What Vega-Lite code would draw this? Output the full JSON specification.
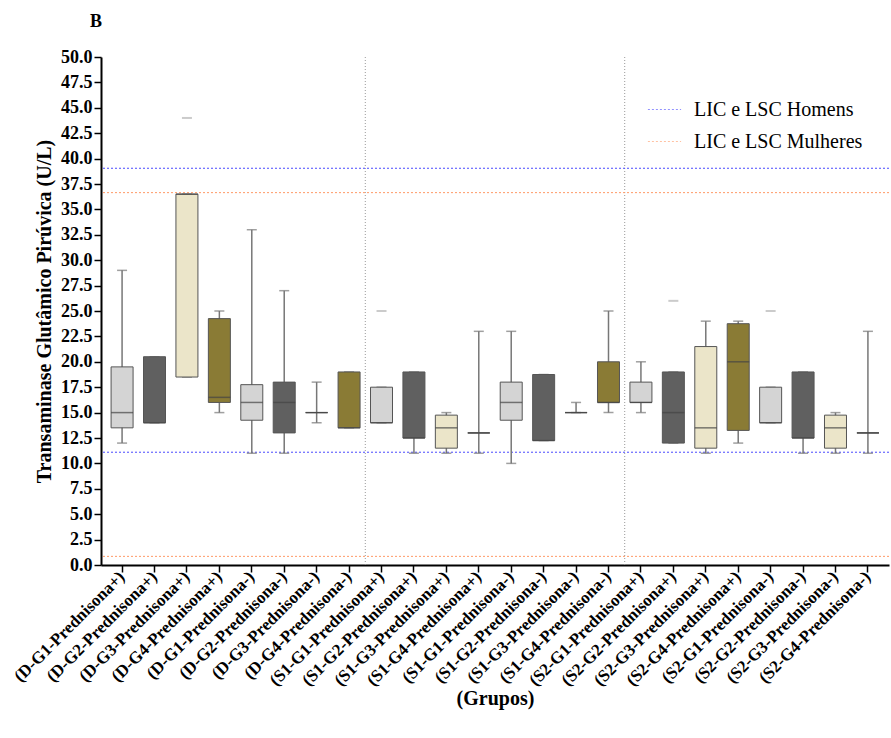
{
  "$schema": "https://vega.github.io/schema/vega-lite/v6.json",
  "autosize": "none",
  "width": 788,
  "height": 508,
  "padding": {"left": 101, "top": 57, "right": 2, "bottom": 173},
  "background": "white",
  "title": {"text": "B", "anchor": "start", "frame": "group", "dx": -11, "offset": 17, "font": "Liberation Serif", "fontSize": 18, "fontWeight": "bold", "color": "black"},
  "config": {
    "view": {"stroke": null},
    "font": "Liberation Serif",
    "axis": {"labelFont": "Liberation Serif", "titleFont": "Liberation Serif", "labelColor": "black", "titleColor": "black", "labelFontWeight": "bold", "titleFontWeight": "bold", "domainColor": "black", "tickColor": "black", "grid": false, "labelOverlap": false},
    "axisY": {"labelFontSize": 18, "titleFontSize": 20, "domainWidth": 2, "tickWidth": 1.5, "tickSize": 7, "labelPadding": 2, "titlePadding": 6, "format": ".1f"}
  },
  "datasets": {
    "boxes": [
      {"g": "(D-G1-Prednisona+)", "grupo": "G1", "min": 12, "q1": 13.5, "med": 15, "q3": 19.5, "max": 29},
      {"g": "(D-G2-Prednisona+)", "grupo": "G2", "min": 14, "q1": 14, "med": 14, "q3": 20.5, "max": 20.5},
      {"g": "(D-G3-Prednisona+)", "grupo": "G3", "min": 18.5, "q1": 18.5, "med": 36.5, "q3": 36.5, "max": 36.5},
      {"g": "(D-G4-Prednisona+)", "grupo": "G4", "min": 15, "q1": 16, "med": 16.5, "q3": 24.25, "max": 25},
      {"g": "(D-G1-Prednisona-)", "grupo": "G1", "min": 11, "q1": 14.25, "med": 16, "q3": 17.75, "max": 33},
      {"g": "(D-G2-Prednisona-)", "grupo": "G2", "min": 11, "q1": 13, "med": 16, "q3": 18, "max": 27},
      {"g": "(D-G3-Prednisona-)", "grupo": "G3", "min": 14, "q1": 15, "med": 15, "q3": 15, "max": 18},
      {"g": "(D-G4-Prednisona-)", "grupo": "G4", "min": 13.5, "q1": 13.5, "med": 13.5, "q3": 19, "max": 19},
      {"g": "(S1-G1-Prednisona+)", "grupo": "G1", "min": 14, "q1": 14, "med": 14, "q3": 17.5, "max": 17.5},
      {"g": "(S1-G2-Prednisona+)", "grupo": "G2", "min": 11, "q1": 12.5, "med": 12.5, "q3": 19, "max": 19},
      {"g": "(S1-G3-Prednisona+)", "grupo": "G3", "min": 11, "q1": 11.5, "med": 13.5, "q3": 14.75, "max": 15},
      {"g": "(S1-G4-Prednisona+)", "grupo": "G4", "min": 11, "q1": 13, "med": 13, "q3": 13, "max": 23},
      {"g": "(S1-G1-Prednisona-)", "grupo": "G1", "min": 10, "q1": 14.25, "med": 16, "q3": 18, "max": 23},
      {"g": "(S1-G2-Prednisona-)", "grupo": "G2", "min": 12.25, "q1": 12.25, "med": 12.25, "q3": 18.75, "max": 18.75},
      {"g": "(S1-G3-Prednisona-)", "grupo": "G3", "min": 15, "q1": 15, "med": 15, "q3": 15, "max": 16},
      {"g": "(S1-G4-Prednisona-)", "grupo": "G4", "min": 15, "q1": 16, "med": 16, "q3": 20, "max": 25},
      {"g": "(S2-G1-Prednisona+)", "grupo": "G1", "min": 15, "q1": 16, "med": 16, "q3": 18, "max": 20},
      {"g": "(S2-G2-Prednisona+)", "grupo": "G2", "min": 12, "q1": 12, "med": 15, "q3": 19, "max": 19},
      {"g": "(S2-G3-Prednisona+)", "grupo": "G3", "min": 11, "q1": 11.5, "med": 13.5, "q3": 21.5, "max": 24},
      {"g": "(S2-G4-Prednisona+)", "grupo": "G4", "min": 12, "q1": 13.25, "med": 20, "q3": 23.75, "max": 24},
      {"g": "(S2-G1-Prednisona-)", "grupo": "G1", "min": 14, "q1": 14, "med": 14, "q3": 17.5, "max": 17.5},
      {"g": "(S2-G2-Prednisona-)", "grupo": "G2", "min": 11, "q1": 12.5, "med": 12.5, "q3": 19, "max": 19},
      {"g": "(S2-G3-Prednisona-)", "grupo": "G3", "min": 11, "q1": 11.5, "med": 13.5, "q3": 14.75, "max": 15},
      {"g": "(S2-G4-Prednisona-)", "grupo": "G4", "min": 11, "q1": 13, "med": 13, "q3": 13, "max": 23}
    ],
    "outliers": [
      {"g": "(D-G3-Prednisona+)", "v": 44},
      {"g": "(S1-G1-Prednisona+)", "v": 25},
      {"g": "(S2-G2-Prednisona+)", "v": 26},
      {"g": "(S2-G1-Prednisona-)", "v": 25}
    ],
    "refs": [
      {"tipo": "LIC e LSC Homens", "v": 39.05},
      {"tipo": "LIC e LSC Homens", "v": 11.1},
      {"tipo": "LIC e LSC Mulheres", "v": 36.65},
      {"tipo": "LIC e LSC Mulheres", "v": 0.85}
    ],
    "seps": [
      {"g": "(S1-G1-Prednisona+)"},
      {"g": "(S2-G1-Prednisona+)"}
    ]
  },
  "encoding": {
    "x": {
      "field": "g", "type": "nominal",
      "scale": {"type": "band", "paddingInner": 0, "paddingOuter": 0.15,
        "domain": ["(D-G1-Prednisona+)", "(D-G2-Prednisona+)", "(D-G3-Prednisona+)", "(D-G4-Prednisona+)", "(D-G1-Prednisona-)", "(D-G2-Prednisona-)", "(D-G3-Prednisona-)", "(D-G4-Prednisona-)", "(S1-G1-Prednisona+)", "(S1-G2-Prednisona+)", "(S1-G3-Prednisona+)", "(S1-G4-Prednisona+)", "(S1-G1-Prednisona-)", "(S1-G2-Prednisona-)", "(S1-G3-Prednisona-)", "(S1-G4-Prednisona-)", "(S2-G1-Prednisona+)", "(S2-G2-Prednisona+)", "(S2-G3-Prednisona+)", "(S2-G4-Prednisona+)", "(S2-G1-Prednisona-)", "(S2-G2-Prednisona-)", "(S2-G3-Prednisona-)", "(S2-G4-Prednisona-)"]},
      "axis": {"title": "(Grupos)", "titleFont": "Liberation Serif", "labelFont": "Liberation Serif", "titleFontSize": 20, "titlePadding": 0, "labelAngle": -45, "labelAlign": "right", "labelBaseline": "middle", "labelFontSize": 17, "labelPadding": 2, "domainWidth": 2, "tickWidth": 1.5, "tickSize": 7, "labelLimit": 400, "labelOverlap": false}
    }
  },
  "layer": [
    {
      "data": {"name": "seps"},
      "mark": {"type": "rule", "color": "#999999", "strokeDash": [1, 2], "strokeWidth": 1},
      "encoding": {"x": {"field": "g", "type": "nominal", "bandPosition": 0}}
    },
    {
      "data": {"name": "refs"},
      "mark": {"type": "rule", "strokeDash": [2, 2], "strokeWidth": 1},
      "encoding": {
        "x": null,
        "y": {"field": "v", "type": "quantitative", "scale": {"domain": [0, 50], "nice": false},
          "axis": {"title": "Transaminase Glutâmico Pirúvica (U/L)", "values": [0, 2.5, 5, 7.5, 10, 12.5, 15, 17.5, 20, 22.5, 25, 27.5, 30, 32.5, 35, 37.5, 40, 42.5, 45, 47.5, 50]}},
        "color": {"field": "tipo", "type": "nominal",
          "scale": {"domain": ["LIC e LSC Homens", "LIC e LSC Mulheres"], "range": ["#4a4aff", "#ff9a66"]},
          "legend": {"title": null, "orient": "none", "legendX": 546, "legendY": 35, "symbolSize": 1100, "symbolDash": [2, 2], "symbolStrokeWidth": 1, "symbolOpacity": 0.6, "labelFont": "Liberation Serif", "labelFontSize": 20, "labelColor": "black", "labelOffset": 12, "rowPadding": 4, "labelLimit": 400}}
      }
    },
    {
      "data": {"name": "boxes"},
      "mark": {"type": "rule", "color": "#777777", "strokeWidth": 1.5},
      "encoding": {
        "y": {"field": "min", "type": "quantitative", "axis": {"title": "Transaminase Glutâmico Pirúvica (U/L)", "values": [0, 2.5, 5, 7.5, 10, 12.5, 15, 17.5, 20, 22.5, 25, 27.5, 30, 32.5, 35, 37.5, 40, 42.5, 45, 47.5, 50]}},
        "y2": {"field": "max"}
      }
    },
    {
      "data": {"name": "boxes"},
      "mark": {"type": "tick", "color": "#777777", "size": 10, "thickness": 1.5},
      "encoding": {"y": {"field": "max", "type": "quantitative", "axis": {"title": "Transaminase Glutâmico Pirúvica (U/L)", "values": [0, 2.5, 5, 7.5, 10, 12.5, 15, 17.5, 20, 22.5, 25, 27.5, 30, 32.5, 35, 37.5, 40, 42.5, 45, 47.5, 50]}}}
    },
    {
      "data": {"name": "boxes"},
      "mark": {"type": "tick", "color": "#777777", "size": 10, "thickness": 1.5},
      "encoding": {"y": {"field": "min", "type": "quantitative", "axis": {"title": "Transaminase Glutâmico Pirúvica (U/L)", "values": [0, 2.5, 5, 7.5, 10, 12.5, 15, 17.5, 20, 22.5, 25, 27.5, 30, 32.5, 35, 37.5, 40, 42.5, 45, 47.5, 50]}}}
    },
    {
      "data": {"name": "boxes"},
      "mark": {"type": "bar", "size": 22, "stroke": "#555555", "strokeWidth": 1},
      "encoding": {
        "y": {"field": "q1", "type": "quantitative", "axis": {"title": "Transaminase Glutâmico Pirúvica (U/L)", "values": [0, 2.5, 5, 7.5, 10, 12.5, 15, 17.5, 20, 22.5, 25, 27.5, 30, 32.5, 35, 37.5, 40, 42.5, 45, 47.5, 50]}},
        "y2": {"field": "q3"},
        "fill": {"field": "grupo", "type": "nominal", "legend": null,
          "scale": {"domain": ["G1", "G2", "G3", "G4"], "range": ["#d4d4d4", "#606060", "#ebe5c9", "#8a7b35"]}}
      }
    },
    {
      "data": {"name": "boxes"},
      "mark": {"type": "tick", "color": "#444444", "size": 22, "thickness": 1.5},
      "encoding": {"y": {"field": "med", "type": "quantitative", "axis": {"title": "Transaminase Glutâmico Pirúvica (U/L)", "values": [0, 2.5, 5, 7.5, 10, 12.5, 15, 17.5, 20, 22.5, 25, 27.5, 30, 32.5, 35, 37.5, 40, 42.5, 45, 47.5, 50]}}}
    },
    {
      "data": {"name": "outliers"},
      "mark": {"type": "tick", "color": "#b5b5b5", "size": 10, "thickness": 2},
      "encoding": {"y": {"field": "v", "type": "quantitative", "axis": {"title": "Transaminase Glutâmico Pirúvica (U/L)", "values": [0, 2.5, 5, 7.5, 10, 12.5, 15, 17.5, 20, 22.5, 25, 27.5, 30, 32.5, 35, 37.5, 40, 42.5, 45, 47.5, 50]}}}
    }
  ]
}
